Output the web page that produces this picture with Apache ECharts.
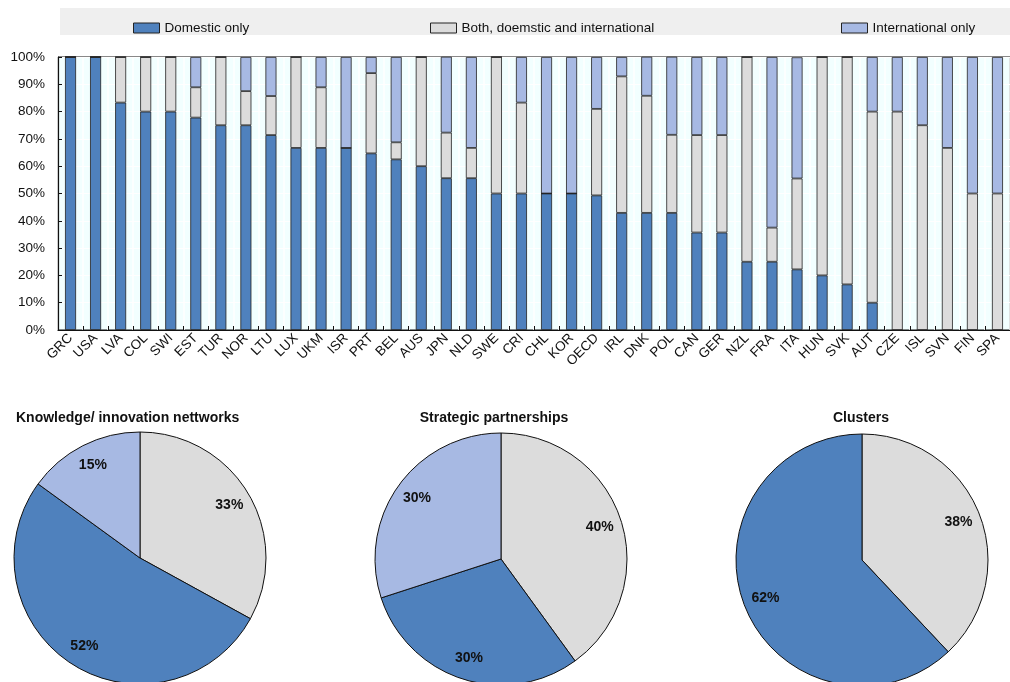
<!DOCTYPE html>
<html>
<head>
<meta charset="utf-8">
<script src="https://cdn.jsdelivr.net/npm/echarts@6/dist/echarts.min.js"></script>
<style>
  html, body { margin: 0; padding: 0; background: #fff; }
  #chart { width: 1010px; height: 682px; }
</style>
</head>
<body>
<div id="chart"></div>
<script>
// Countries, in display order
const countries = ['GRC','USA','LVA','COL','SWI','EST','TUR','NOR','LTU','LUX','UKM','ISR','PRT','BEL','AUS','JPN','NLD','SWE','CRI','CHL','KOR','OECD','IRL','DNK','POL','CAN','GER','NZL','FRA','ITA','HUN','SVK','AUT','CZE','ISL','SVN','FIN','SPA'];

// Share of linkages by scope (%)
const domesticOnly = [100,100,83.3,80,80,77.8,75,75,71.4,66.7,66.7,66.7,64.7,62.5,60,55.6,55.6,50,50,50,50,49.3,42.9,42.9,42.9,35.7,35.7,25,25,22.2,20,16.7,10,0,0,0,0,0];
const bothScopes   = [0,0,16.7,20,20,11.1,25,12.5,14.3,33.3,22.2,0,29.4,6.25,40,16.7,11.1,50,33.3,0,0,31.7,50,42.9,28.6,35.7,35.7,75,12.5,33.3,80,83.3,70,80,75,66.7,50,50];
const intlOnly     = [0,0,0,0,0,11.1,0,12.5,14.3,0,11.1,33.3,5.9,31.25,0,27.8,33.3,0,16.7,50,50,19.0,7.1,14.3,28.6,28.6,28.6,0,62.5,44.4,0,0,20,20,25,33.3,50,50];

const yTicks = [0,10,20,30,40,50,60,70,80,90,100];

// Pie panels: [both, domestic, international]
const pieTitles = ['Knowledge/ innovation nettworks', 'Strategic partnerships', 'Clusters'];
const knowledgeShares = [33, 52, 15];
const strategicShares = [40, 30, 30];
const clusterShares   = [38, 62, 0];

const seriesNames = ['Domestic only', 'Both, doemstic and international', 'International only'];
const colors = { dom: '#4F81BD', both: '#DCDCDC', intl: '#A7B9E3' };
const FONT = '"Liberation Sans Narrow", "Arial Narrow", "Liberation Sans", Arial, sans-serif';

const chart = echarts.init(document.getElementById('chart'), null, { renderer: 'canvas' });

const barStyle = c => ({ color: c, borderColor: '#222', borderWidth: 0.8 });

function pieItems(vals) {
  const items = [
    { name: seriesNames[1], value: vals[0], itemStyle: { color: colors.both } },
    { name: seriesNames[0], value: vals[1], itemStyle: { color: colors.dom } },
    { name: seriesNames[2], value: vals[2], itemStyle: { color: colors.intl } }
  ];
  return items.filter(d => d.value > 0);
}

const pieCenters = [[140, 558], [501, 559], [862, 560]];
const pieRadius = 126;
const pieData = [knowledgeShares, strategicShares, clusterShares];

const pieSeries = [];
pieData.forEach((vals, i) => {
  // filled slices
  pieSeries.push({
    type: 'pie', center: pieCenters[i], radius: [0, pieRadius],
    startAngle: 90, clockwise: true, silent: true, animation: false,
    label: { show: false }, labelLine: { show: false },
    itemStyle: { borderColor: '#111', borderWidth: 1 },
    data: pieItems(vals)
  });
  // transparent ring that positions the value labels
  pieSeries.push({
    type: 'pie', center: pieCenters[i], radius: [pieRadius * 0.6, pieRadius],
    startAngle: 90, clockwise: true, silent: true, animation: false,
    itemStyle: { color: 'rgba(0,0,0,0)', borderWidth: 0 },
    label: { show: true, position: 'inside', formatter: '{c}%', color: '#111',
             fontFamily: FONT, fontWeight: 'bold', fontSize: 14 },
    labelLine: { show: false },
    data: pieItems(vals).map(d => ({ name: d.name, value: d.value }))
  });
});

function legendFor(name, left) {
  return {
    data: [name], left: left, top: 16, itemWidth: 26, itemHeight: 10,
    icon: 'rect', selectedMode: false,
    textStyle: { fontFamily: FONT, fontSize: 13.5, color: '#111' },
    itemStyle: { borderColor: '#222', borderWidth: 1 }
  };
}

const titleText = { fontFamily: FONT, fontWeight: 'bold', fontSize: 14, color: '#111' };

const option = {
  animation: false,
  backgroundColor: '#fff',
  graphic: [{
    type: 'rect', z: 0, shape: { x: 60, y: 8, width: 960, height: 27 },
    style: { fill: '#EFEFEF' }
  }],
  legend: [
    legendFor(seriesNames[0], 128),
    legendFor(seriesNames[1], 425),
    legendFor(seriesNames[2], 836)
  ],
  title: [
    { text: pieTitles[0], left: 11, top: 406, textStyle: titleText },
    { text: pieTitles[1], left: 489, top: 406, textAlign: 'center', textStyle: titleText },
    { text: pieTitles[2], left: 856, top: 406, textAlign: 'center', textStyle: titleText }
  ],
  grid: {
    left: 58, right: -5, top: 57, bottom: 352,
    show: true, backgroundColor: '#F2FFFF', borderColor: '#111', borderWidth: 1
  },
  xAxis: {
    type: 'category', data: countries, boundaryGap: true,
    axisLine: { lineStyle: { color: '#111', width: 1.2 } },
    axisTick: { show: true, inside: true, length: 4, lineStyle: { color: '#111' } },
    splitLine: { show: true, lineStyle: { color: '#FFFFFF', width: 1.5 } },
    axisLabel: { interval: 0, rotate: 45, margin: 6, fontFamily: FONT, fontSize: 13.5, color: '#111' }
  },
  yAxis: {
    type: 'value', min: 0, max: 100, interval: 10,
    axisLine: { show: true, lineStyle: { color: '#111', width: 1.2 } },
    axisTick: { show: true, inside: true, length: 4, lineStyle: { color: '#111' } },
    splitLine: { show: true, lineStyle: { color: '#FFFFFF', width: 1 } },
    axisLabel: { formatter: '{value}%', margin: 13, fontFamily: FONT, fontSize: 13.5, color: '#111',
                 customValues: yTicks }
  },
  series: [
    { name: seriesNames[0], type: 'bar', stack: 'share', barWidth: 11, data: domesticOnly, itemStyle: barStyle(colors.dom) },
    { name: seriesNames[1], type: 'bar', stack: 'share', barWidth: 11, data: bothScopes, itemStyle: barStyle(colors.both) },
    { name: seriesNames[2], type: 'bar', stack: 'share', barWidth: 11, data: intlOnly, itemStyle: barStyle(colors.intl) }
  ].concat(pieSeries)
};

chart.setOption(option);
</script>
</body>
</html>
